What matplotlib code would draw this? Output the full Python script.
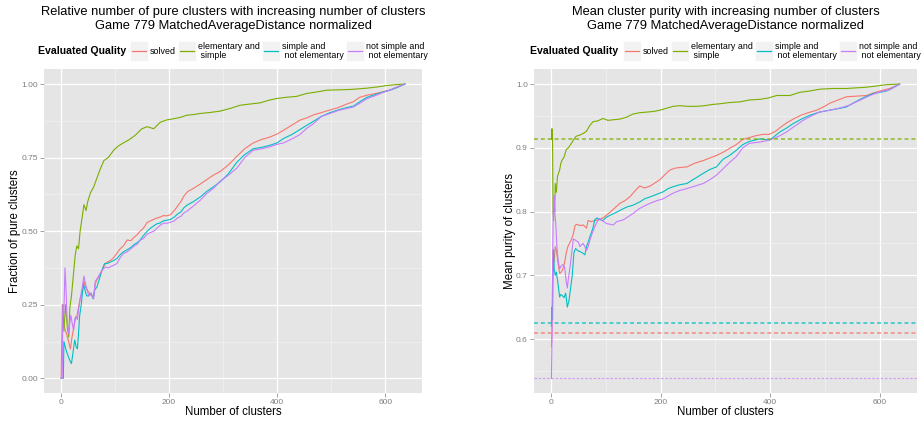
import matplotlib
matplotlib.use("Agg")
import matplotlib.pyplot as plt
from matplotlib.patches import Rectangle
from matplotlib.lines import Line2D

plt.rcParams['font.family'] = ['Liberation Sans', 'DejaVu Sans']

W, H = 924, 421

categories = ["solved", "elementary and\n simple", "simple and\n not elementary",
              "not simple and\n not elementary"]
colors = ["#F8766D", "#7CAE00", "#00BFC4", "#C77CFF"]

# ---- Fraction of pure clusters -------------------------------------------
pure_solved_x = [1, 3, 5, 8, 11, 14, 18, 21, 24, 27, 30, 33, 36, 40, 43, 46, 49, 53, 57, 61,
                 64, 67, 72, 76, 81, 86, 92, 98, 104, 110, 116, 123, 130, 136, 141, 147, 153,
                 160, 166, 172, 178, 184, 190, 196, 203, 210, 216, 222, 228, 235, 245, 258,
                 270, 282, 295, 310, 326, 340, 356, 372, 387, 400, 412, 427, 442, 455, 467,
                 482, 498, 513, 529, 541, 553, 566, 578, 594, 609, 622, 636]
pure_solved_y = [0.0, 0.25, 0.2, 0.167, 0.15, 0.13, 0.10, 0.14, 0.17, 0.20, 0.21, 0.24, 0.27,
                 0.29, 0.33, 0.31, 0.30, 0.29, 0.28, 0.28, 0.32, 0.335, 0.35, 0.365, 0.385,
                 0.395, 0.40, 0.41, 0.425, 0.44, 0.45, 0.47, 0.468, 0.48, 0.487, 0.50, 0.51,
                 0.53, 0.535, 0.54, 0.545, 0.548, 0.553, 0.552, 0.556, 0.57, 0.585, 0.60,
                 0.62, 0.635, 0.645, 0.66, 0.675, 0.69, 0.703, 0.725, 0.755, 0.78, 0.80,
                 0.812, 0.82, 0.83, 0.843, 0.86, 0.877, 0.885, 0.895, 0.903, 0.912, 0.92,
                 0.932, 0.94, 0.955, 0.962, 0.966, 0.973, 0.98, 0.99, 1.0]

pure_elem_x = [4, 6, 9, 12, 15, 17, 20, 24, 27, 30, 33, 36, 40, 43, 47, 50, 55, 61, 67, 73,
               80, 88, 98, 107, 116, 126, 138, 150, 160, 172, 184, 196, 209, 222, 233, 245,
               258, 275, 295, 315, 332, 350, 369, 385, 400, 418, 436, 455, 470, 492, 510,
               529, 547, 566, 585, 603, 620, 636]
pure_elem_y = [0.25, 0.16, 0.25, 0.18, 0.14, 0.24, 0.28, 0.36, 0.42, 0.45, 0.44, 0.50, 0.55,
               0.59, 0.57, 0.60, 0.63, 0.65, 0.68, 0.71, 0.74, 0.75, 0.775, 0.79, 0.80, 0.81,
               0.826, 0.848, 0.855, 0.848, 0.870, 0.878, 0.882, 0.887, 0.894, 0.896, 0.900,
               0.903, 0.908, 0.918, 0.928, 0.932, 0.936, 0.945, 0.951, 0.955, 0.958, 0.968,
               0.972, 0.979, 0.980, 0.981, 0.983, 0.986, 0.990, 0.995, 0.998, 1.0]

pure_simple_x = [1, 3, 5, 6, 8, 11, 14, 17, 20, 23, 26, 29, 31, 33, 35, 38, 42, 45, 48, 52,
                 56, 60, 63, 67, 72, 76, 81, 86, 92, 98, 104, 110, 116, 123, 130, 136, 141,
                 147, 153, 160, 166, 172, 178, 184, 190, 196, 203, 210, 216, 222, 228, 235,
                 245, 258, 270, 282, 295, 310, 326, 340, 356, 372, 387, 400, 412, 427, 442,
                 455, 467, 482, 498, 513, 529, 541, 553, 566, 578, 594, 609, 622, 636]
pure_simple_y = [0.0, 0.0, 0.0, 0.125, 0.11, 0.09, 0.075, 0.06, 0.05, 0.09, 0.13, 0.105, 0.10,
                 0.15, 0.21, 0.25, 0.32, 0.30, 0.28, 0.28, 0.29, 0.27, 0.30, 0.31, 0.34,
                 0.365, 0.39, 0.39, 0.395, 0.40, 0.407, 0.42, 0.43, 0.437, 0.445, 0.455,
                 0.46, 0.47, 0.485, 0.50, 0.51, 0.518, 0.525, 0.528, 0.535, 0.537, 0.54,
                 0.548, 0.558, 0.565, 0.58, 0.59, 0.60, 0.616, 0.635, 0.65, 0.668, 0.695,
                 0.735, 0.76, 0.78, 0.785, 0.792, 0.80, 0.815, 0.828, 0.845, 0.86, 0.873,
                 0.89, 0.903, 0.912, 0.92, 0.925, 0.94, 0.955, 0.962, 0.972, 0.979, 0.988, 1.0]

pure_notsimple_x = [1, 3, 4, 6, 8, 10, 12, 15, 17, 19, 21, 24, 26, 28, 31, 33, 36, 40, 43,
                    46, 49, 52, 55, 58, 61, 64, 68, 73, 78, 83, 88, 93, 98, 104, 110, 116,
                    123, 130, 136, 141, 147, 153, 160, 166, 172, 178, 184, 190, 196, 203,
                    210, 216, 222, 228, 235, 245, 258, 270, 282, 295, 310, 326, 340, 356,
                    372, 387, 400, 412, 427, 442, 455, 467, 482, 498, 513, 529, 541, 553,
                    566, 578, 594, 609, 622, 636]
pure_notsimple_y = [0.0, 0.0, 0.25, 0.22, 0.375, 0.30, 0.20, 0.15, 0.19, 0.214, 0.19, 0.163,
                    0.20, 0.21, 0.20, 0.23, 0.27, 0.31, 0.347, 0.32, 0.30, 0.28, 0.288, 0.28,
                    0.27, 0.33, 0.34, 0.356, 0.37, 0.378, 0.375, 0.38, 0.384, 0.39, 0.41,
                    0.424, 0.43, 0.44, 0.45, 0.455, 0.469, 0.475, 0.49, 0.495, 0.50, 0.51,
                    0.52, 0.527, 0.527, 0.53, 0.535, 0.545, 0.55, 0.562, 0.57, 0.585, 0.605,
                    0.628, 0.645, 0.67, 0.69, 0.715, 0.75, 0.775, 0.78, 0.787, 0.795, 0.80,
                    0.813, 0.828, 0.85, 0.865, 0.89, 0.90, 0.91, 0.917, 0.922, 0.935, 0.95,
                    0.958, 0.97, 0.98, 0.99, 1.0]

# ---- Mean purity ----------------------------------------------------------
purity_solved_x = [1, 2, 3, 4, 6, 8, 10, 13, 16, 19, 22, 25, 28, 31, 35, 38, 41, 44, 47, 53,
                   59, 65, 68, 74, 80, 87, 95, 101, 108, 117, 126, 135, 144, 153, 162, 171,
                   181, 190, 199, 208, 217, 226, 235, 248, 263, 278, 290, 302, 314, 326, 338,
                   350, 362, 374, 386, 398, 410, 420, 432, 444, 456, 469, 485, 497, 509, 524,
                   539, 557, 576, 588, 600, 618, 636]
purity_solved_y = [0.588, 0.61, 0.70, 0.739, 0.72, 0.745, 0.74, 0.72, 0.703, 0.705, 0.71,
                   0.72, 0.735, 0.745, 0.752, 0.757, 0.765, 0.778, 0.78, 0.778, 0.779, 0.774,
                   0.786, 0.784, 0.786, 0.787, 0.79, 0.794, 0.799, 0.806, 0.813, 0.817, 0.823,
                   0.832, 0.840, 0.837, 0.840, 0.845, 0.850, 0.858, 0.865, 0.868, 0.869,
                   0.870, 0.876, 0.880, 0.884, 0.888, 0.893, 0.899, 0.905, 0.913, 0.916,
                   0.919, 0.921, 0.921, 0.926, 0.933, 0.940, 0.946, 0.951, 0.955, 0.959,
                   0.964, 0.970, 0.975, 0.980, 0.981, 0.982, 0.986, 0.989, 0.993, 1.0]

purity_elem_x = [1, 2, 3, 4, 5, 6, 7, 8, 10, 12, 14, 16, 18, 20, 24, 28, 32, 36, 41, 46, 53,
                 60, 65, 71, 77, 85, 95, 104, 114, 126, 138, 150, 162, 175, 187, 199, 211,
                 223, 235, 250, 265, 280, 295, 308, 326, 345, 362, 381, 396, 412, 436, 454,
                 472, 491, 515, 539, 557, 576, 594, 612, 636]
purity_elem_y = [0.913, 0.93, 0.92, 0.80, 0.786, 0.82, 0.80, 0.844, 0.83, 0.855, 0.86, 0.865,
                 0.875, 0.88, 0.885, 0.897, 0.90, 0.905, 0.912, 0.918, 0.92, 0.923, 0.926,
                 0.935, 0.941, 0.942, 0.946, 0.943, 0.944, 0.945, 0.948, 0.953, 0.955,
                 0.956, 0.957, 0.959, 0.962, 0.965, 0.966, 0.965, 0.965, 0.966, 0.968,
                 0.969, 0.971, 0.972, 0.975, 0.976, 0.978, 0.982, 0.982, 0.987, 0.989,
                 0.992, 0.993, 0.993, 0.994, 0.995, 0.997, 0.999, 1.0]

purity_simple_x = [1, 2, 3, 4, 5, 6, 8, 10, 13, 16, 18, 21, 24, 27, 30, 33, 36, 39, 42, 45,
                   50, 54, 58, 62, 65, 68, 71, 74, 77, 80, 84, 90, 95, 101, 110, 120, 129,
                   138, 150, 162, 171, 181, 193, 205, 214, 223, 235, 248, 263, 278, 290,
                   302, 314, 326, 338, 350, 362, 381, 399, 418, 430, 442, 457, 472, 490,
                   515, 539, 551, 564, 576, 588, 612, 624, 636]
purity_simple_y = [0.62, 0.65, 0.63, 0.70, 0.74, 0.71, 0.70, 0.705, 0.687, 0.666, 0.67,
                   0.668, 0.665, 0.672, 0.65, 0.66, 0.68, 0.70, 0.735, 0.742, 0.738, 0.737,
                   0.735, 0.732, 0.745, 0.752, 0.76, 0.767, 0.775, 0.787, 0.79, 0.787, 0.786,
                   0.791, 0.795, 0.799, 0.803, 0.807, 0.81, 0.815, 0.82, 0.823, 0.827,
                   0.831, 0.836, 0.839, 0.842, 0.844, 0.852, 0.86, 0.866, 0.87, 0.882,
                   0.888, 0.896, 0.905, 0.91, 0.914, 0.912, 0.925, 0.931, 0.938, 0.945,
                   0.951, 0.956, 0.96, 0.964, 0.97, 0.976, 0.981, 0.985, 0.989, 0.994, 1.0]

purity_notsimple_x = [1, 2, 3, 4, 5, 6, 7, 9, 11, 13, 16, 19, 22, 25, 28, 30, 32, 35, 38, 41,
                      45, 50, 53, 56, 59, 62, 65, 68, 71, 75, 80, 85, 89, 95, 102, 108, 114,
                      120, 132, 141, 150, 162, 171, 181, 193, 205, 217, 226, 235, 248, 263,
                      278, 290, 302, 314, 326, 338, 350, 362, 381, 393, 405, 418, 430, 445,
                      460, 475, 490, 515, 530, 545, 557, 570, 582, 594, 606, 618, 636]
purity_notsimple_y = [0.538, 0.60, 0.70, 0.78, 0.82, 0.825, 0.80, 0.78, 0.745, 0.725, 0.71,
                      0.715, 0.717, 0.713, 0.69, 0.68, 0.695, 0.713, 0.735, 0.757, 0.755,
                      0.752, 0.745, 0.748, 0.75, 0.745, 0.739, 0.745, 0.755, 0.765, 0.776,
                      0.785, 0.789, 0.785, 0.781, 0.78, 0.779, 0.784, 0.787, 0.792, 0.797,
                      0.805, 0.809, 0.813, 0.817, 0.82, 0.826, 0.83, 0.833, 0.836, 0.84,
                      0.844, 0.85, 0.857, 0.867, 0.877, 0.886, 0.90, 0.907, 0.909, 0.911,
                      0.914, 0.919, 0.925, 0.934, 0.943, 0.95, 0.956, 0.96, 0.963, 0.967,
                      0.972, 0.977, 0.982, 0.986, 0.989, 0.991, 1.0]

# purity of a single all-in-one cluster for each quality group
purity_baseline = [0.6094, 0.9134, 0.625, 0.5385]

pure_series = [(pure_solved_x, pure_solved_y), (pure_elem_x, pure_elem_y),
               (pure_simple_x, pure_simple_y), (pure_notsimple_x, pure_notsimple_y)]
purity_series = [(purity_solved_x, purity_solved_y), (purity_elem_x, purity_elem_y),
                 (purity_simple_x, purity_simple_y), (purity_notsimple_x, purity_notsimple_y)]

GREY = "#7F7F7F"

fig = plt.figure(figsize=(W / 100, H / 100), dpi=100)


def px_box(l, t, r, b):
    return [l / W, 1 - b / H, (r - l) / W, (b - t) / H]


def style(ax, ylim, yticks, ylabels, yminor):
    ax.set_facecolor("#E5E5E5")
    for s in ax.spines.values():
        s.set_visible(False)
    ax.set_xlim(-30.75, 667.75)
    ax.set_ylim(*ylim)
    ax.set_xticks([0, 200, 400, 600])
    ax.set_xticks([100, 300, 500], minor=True)
    ax.set_yticks(yticks)
    ax.set_yticklabels(ylabels)
    ax.set_yticks(yminor, minor=True)
    ax.grid(which="major", color="white", lw=0.9)
    ax.grid(which="minor", color="#F2F2F2", lw=0.5)
    ax.set_axisbelow(True)
    ax.tick_params(which="major", length=3, width=0.5, color=GREY, labelcolor=GREY,
                   labelsize=6, pad=1.5)
    ax.tick_params(which="minor", length=0)


ax1 = fig.add_axes(px_box(44, 69.3, 422, 393))
ax2 = fig.add_axes(px_box(534, 69.3, 917, 393))

style(ax1, (-0.05, 1.05), [0, 0.25, 0.5, 0.75, 1.0],
      ["0.00", "0.25", "0.50", "0.75", "1.00"], [0.125, 0.375, 0.625, 0.875])
style(ax2, (0.5154, 1.0231), [0.6, 0.7, 0.8, 0.9, 1.0],
      ["0.6", "0.7", "0.8", "0.9", "1.0"], [0.55, 0.65, 0.75, 0.85, 0.95])

for (x, y), c in zip(pure_series, colors):
    ax1.plot(x, y, color=c, lw=0.8)

for (x, y), c in zip(purity_series, colors):
    ax2.plot(x, y, color=c, lw=0.8)

for b, c in zip(purity_baseline, colors):
    lw = 0.8 if c == "#C77CFF" else 1.3
    ax2.axhline(b, color=c, lw=lw, alpha=0.7, dashes=(2.2, 1.6))


def fig_text(xp, yp, s, **kw):
    fig.text(xp / W, 1 - yp / H, s, **kw)


# titles, axis titles
titles = ["Relative number of pure clusters with increasing number of clusters",
          "Mean cluster purity with increasing number of clusters"]
subtitle = "Game 779 MatchedAverageDistance normalized"
for cx, t in zip([233, 725.5], titles):
    fig_text(cx, 11.7, t, ha="center", va="center", fontsize=9.3)
    fig_text(cx, 25.7, subtitle, ha="center", va="center", fontsize=9.3)
    fig_text(cx, 412, "Number of clusters", ha="center", va="center", fontsize=8.3)

fig_text(14.8, 231, "Fraction of pure clusters", ha="center", va="center",
         rotation=90, fontsize=8.3)
fig_text(509.8, 231, "Mean purity of clusters", ha="center", va="center",
         rotation=90, fontsize=8.3)


# legends
def legend(title_x, key_lefts):
    yc = 51
    fig_text(title_x, yc, "Evaluated Quality", ha="left", va="center",
             fontsize=7.6, fontweight="bold")
    kw, kh = 17.5, 19
    for kl, lab, c in zip(key_lefts, categories, colors):
        fig.patches.append(Rectangle((kl / W, 1 - (yc + kh / 2) / H), kw / W, kh / H,
                                     transform=fig.transFigure, facecolor="#F2F2F2",
                                     edgecolor="white", lw=0.5))
        fig.lines.append(Line2D([(kl + 1.5) / W, (kl + kw - 1.5) / W],
                                [1 - yc / H, 1 - yc / H], transform=fig.transFigure,
                                color=c, lw=0.9))
        fig_text(kl + kw + 2.5, yc, lab, ha="left", va="center", fontsize=6.4,
                 linespacing=0.95)


legend(37.7, [130, 178, 262, 346])
legend(530.3, [623, 671, 755, 839])

fig.savefig("out.png", dpi=100)
